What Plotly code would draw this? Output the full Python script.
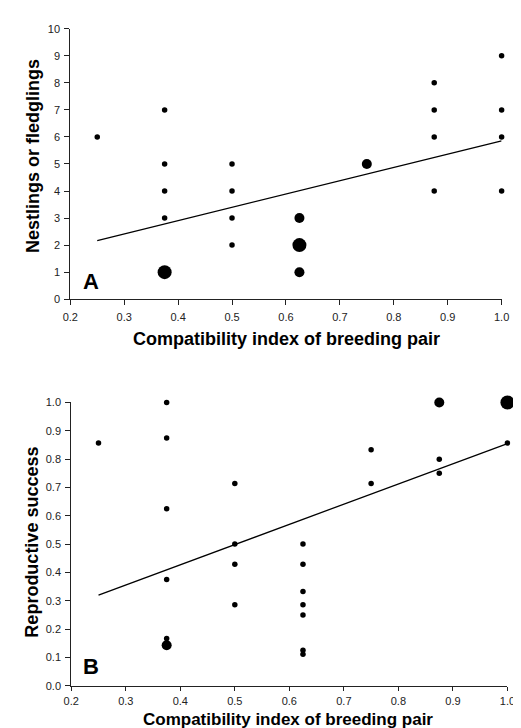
import plotly.graph_objects as go

# ---- Panel A data: nestlings or fledglings ----
a_x = [0.25, 0.375, 0.375, 0.375, 0.375, 0.375, 0.5, 0.5, 0.5, 0.5,
       0.625, 0.625, 0.625, 0.75, 0.875, 0.875, 0.875, 0.875, 1.0, 1.0, 1.0, 1.0]
a_y = [6, 7, 5, 4, 3, 1, 5, 4, 3, 2,
       3, 2, 1, 5, 8, 7, 6, 4, 9, 7, 6, 4]
a_n = [1, 1, 1, 1, 1, 3, 1, 1, 1, 1,
       2, 3, 2, 2, 1, 1, 1, 1, 1, 1, 1, 1]
a_fit_x = [0.25, 1.0]
a_fit_y = [2.17, 5.85]

# ---- Panel B data: reproductive success ----
b_x = [0.25, 0.375, 0.375, 0.375, 0.375, 0.375, 0.375,
       0.5, 0.5, 0.5, 0.5,
       0.625, 0.625, 0.625, 0.625, 0.625, 0.625, 0.625,
       0.75, 0.75, 0.875, 0.875, 0.875, 1.0, 1.0]
b_y = [0.857, 1.0, 0.875, 0.625, 0.375, 0.167, 0.143,
       0.714, 0.5, 0.429, 0.286,
       0.5, 0.429, 0.333, 0.286, 0.25, 0.125, 0.111,
       0.833, 0.714, 1.0, 0.8, 0.75, 1.0, 0.857]
b_n = [1, 1, 1, 1, 1, 1, 2,
       1, 1, 1, 1,
       1, 1, 1, 1, 1, 1, 1,
       1, 1, 2, 1, 1, 3, 1]
b_fit_x = [0.25, 1.0]
b_fit_y = [0.32, 0.855]

x_ticks = [0.2, 0.3, 0.4, 0.5, 0.6, 0.7, 0.8, 0.9, 1.0]
x_tick_text = ["0.2", "0.3", "0.4", "0.5", "0.6", "0.7", "0.8", "0.9", "1.0"]
a_y_ticks = list(range(0, 11))
b_y_ticks = [0.0, 0.1, 0.2, 0.3, 0.4, 0.5, 0.6, 0.7, 0.8, 0.9, 1.0]
b_y_tick_text = ["0.0", "0.1", "0.2", "0.3", "0.4", "0.5", "0.6", "0.7", "0.8", "0.9", "1.0"]

size_map = {1: 5.5, 2: 10, 3: 14}

W, H = 521, 728
fig = go.Figure()

fig.add_trace(go.Scatter(x=a_fit_x, y=a_fit_y, mode="lines",
                         line=dict(color="black", width=1.3),
                         xaxis="x", yaxis="y", showlegend=False, hoverinfo="skip"))
fig.add_trace(go.Scatter(x=a_x, y=a_y, mode="markers",
                         marker=dict(color="black", opacity=1, size=[size_map[n] for n in a_n], line=dict(width=0)),
                         xaxis="x", yaxis="y", showlegend=False, cliponaxis=False))
fig.add_trace(go.Scatter(x=b_fit_x, y=b_fit_y, mode="lines",
                         line=dict(color="black", width=1.3),
                         xaxis="x2", yaxis="y2", showlegend=False, hoverinfo="skip"))
fig.add_trace(go.Scatter(x=b_x, y=b_y, mode="markers",
                         marker=dict(color="black", opacity=1, size=[size_map[n] for n in b_n], line=dict(width=0)),
                         xaxis="x2", yaxis="y2", showlegend=False, cliponaxis=False))

tickfont = dict(family="Liberation Sans, Arial, sans-serif", size=11, color="#222")
axis_style = dict(showgrid=False, zeroline=False, showline=True, linecolor="#222", linewidth=1,
                  ticks="outside", tickcolor="#222", tickwidth=1,
                  tickfont=tickfont, fixedrange=True)

def px_x(p):
    return p / W

def px_y(p):
    return 1 - p / H

fig.update_layout(
    width=W, height=H,
    margin=dict(l=0, r=0, t=0, b=0),
    paper_bgcolor="white", plot_bgcolor="white",
    xaxis=dict(domain=[px_x(56), px_x(501)], anchor="y", range=[0.2, 1.0],
               tickvals=x_ticks, ticktext=x_tick_text, ticklen=5, ticklabelstandoff=3, **axis_style),
    yaxis=dict(domain=[px_y(290), px_y(15)], anchor="x", range=[0, 10],
               tickvals=a_y_ticks, ticklen=5, ticklabelstandoff=2, **axis_style),
    xaxis2=dict(domain=[px_x(57), px_x(507)], anchor="y2", range=[0.2, 1.0],
                tickvals=x_ticks, ticktext=x_tick_text, ticklen=4, ticklabelstandoff=1, **axis_style),
    yaxis2=dict(domain=[px_y(683), px_y(395)], anchor="x2", range=[0, 1],
                tickvals=b_y_ticks, ticktext=b_y_tick_text, ticklen=5, ticklabelstandoff=2, **axis_style),
)

title_font = dict(family="Liberation Sans, Arial, sans-serif", size=18, color="black")
title_font_b = dict(family="Liberation Sans, Arial, sans-serif", size=17, color="black")
letter_font = dict(family="Liberation Sans, Arial, sans-serif", size=22, color="black")
ann = [
    dict(text="<b>Compatibility index of breeding pair</b>", x=px_x(279), y=px_y(330), font=title_font),
    dict(text="<b>Nestlings or fledglings</b>", x=px_x(17), y=px_y(144), font=title_font, textangle=-90),
    dict(text="<b>A</b>", x=px_x(77), y=px_y(272), font=letter_font),
    dict(text="<b>Compatibility index of breeding pair</b>", x=px_x(281), y=px_y(728), font=title_font_b,
         yanchor="bottom", borderpad=0),
    dict(text="<b>Reproductive success</b>", x=px_x(17), y=px_y(537), font=title_font, textangle=-90),
    dict(text="<b>B</b>", x=px_x(77), y=px_y(663), font=letter_font),
]
for a in ann:
    a.setdefault("yanchor", "middle")
    a.update(xref="paper", yref="paper", showarrow=False, xanchor="center")
    fig.add_annotation(**a)

fig.write_html("out.html")
